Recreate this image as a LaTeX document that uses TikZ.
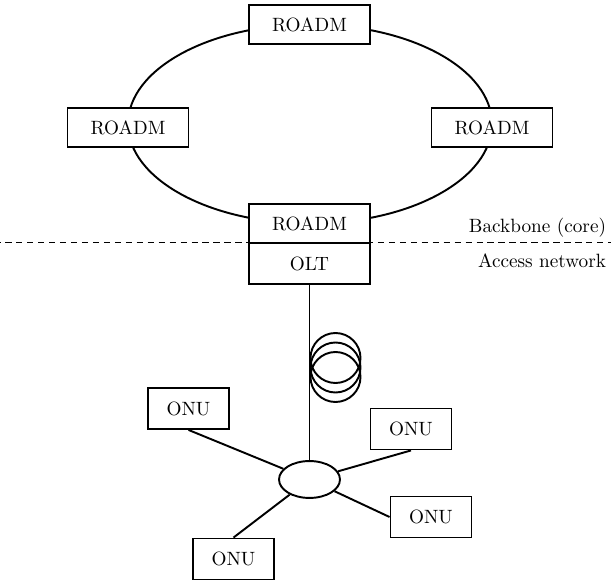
\documentclass[tikz,border=0pt]{standalone}
\usetikzlibrary{shapes.geometric}
\begin{document}
\begin{tikzpicture}[x=0.52pt,y=-0.52pt,line width=1pt,
  box/.style={draw,fill=white,minimum width=62.9pt,minimum height=20.3pt,inner sep=0pt},
  onu/.style={draw,fill=white,minimum width=42.1pt,minimum height=21.3pt,inner sep=0pt},
  lbl/.style={anchor=base east,inner sep=0pt}]
\useasboundingbox (0,0) rectangle (611,583);
% ring
\draw (310,124) ellipse [x radius=94.64pt, y radius=51.74pt];
\node[box] (rtop) at (309.5,24.5) {ROADM};
\node[box] (rleft) at (128,127.5) {ROADM};
\node[box] (rright) at (492,127.5) {ROADM};
\node[box] (rbot) at (309.5,223.5) {ROADM};
\node[box,minimum height=21.3pt] (olt) at (309.5,263.5) {OLT};
% separator
\coordinate (dl) at (0,242.5);
\coordinate (dr) at (611,242.5);
\draw[dash pattern=on 3.3pt off 2.4pt,dash phase=3pt] (dl) -- (dr);
\node[lbl] (bb) at (607,232) {Backbone (core)};
\node[lbl] (an) at (607,268) {Access network};
% splitter
\node[draw,ellipse,minimum width=31.7pt,minimum height=19.2pt,inner sep=0pt] (sp) at (309.5,479.5) {};
\draw (olt.south -| sp.north) -- (sp.north);
% fibre coil
\foreach \cy in {358,367.5,377} \draw (335.5,\cy) circle [radius=13pt];
% ONUs
\node[onu] (o1) at (188.5,408.5) {ONU};
\node[onu] (o2) at (411,429) {ONU};
\node[onu] (o3) at (431,517) {ONU};
\node[onu] (o4) at (233.5,559) {ONU};
\draw (o1.south) -- (sp);
\draw (o2.south) -- (sp);
\draw (o3.west) -- (sp);
\draw (o4.north) -- (sp);
\end{tikzpicture}
\end{document}
